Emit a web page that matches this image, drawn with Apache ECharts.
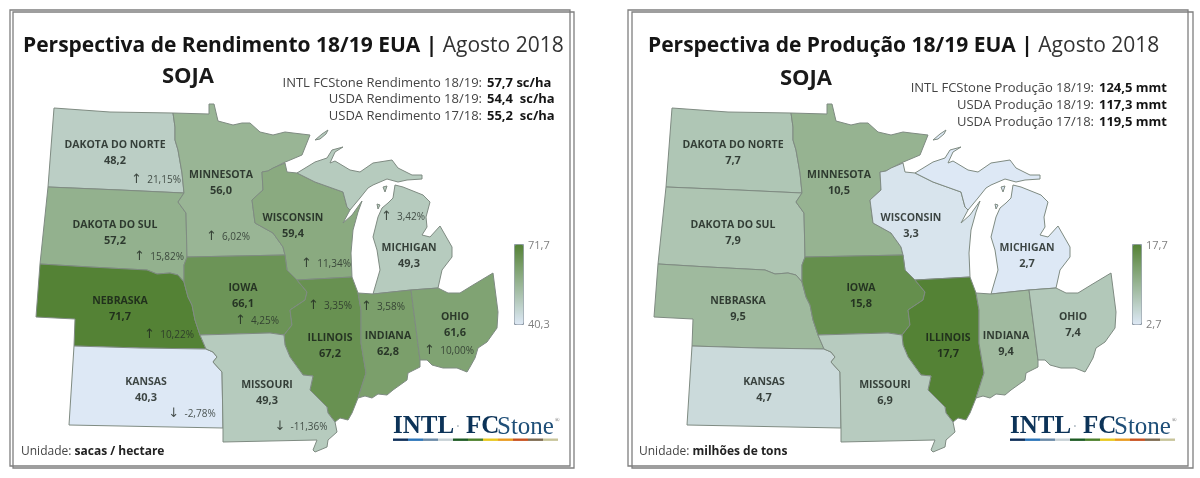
<!DOCTYPE html>
<html>
<head>
<meta charset="utf-8">
<title>Perspectiva soja 18/19</title>
<style>
html, body { margin: 0; padding: 0; background: #fff; }
#main { width: 1200px; height: 478px; }
</style>
<script src="https://cdn.jsdelivr.net/npm/echarts@6/dist/echarts.min.js"></script>
</head>
<body>
<div id="main"></div>
<script>
// chart values
const states = ['DAKOTA DO NORTE', 'DAKOTA DO SUL', 'MINNESOTA', 'WISCONSIN', 'MICHIGAN', 'NEBRASKA', 'IOWA', 'ILLINOIS', 'INDIANA', 'OHIO', 'KANSAS', 'MISSOURI']
const yieldValues = [48.2, 57.2, 56.0, 59.4, 49.3, 71.7, 66.1, 67.2, 62.8, 61.6, 40.3, 49.3]
const yieldChanges = [21.15, 15.82, 6.02, 11.34, 3.42, 10.22, 4.25, 3.35, 3.58, 10.00, -2.78, -11.36]
const productionValues = [7.7, 7.9, 10.5, 3.3, 2.7, 9.5, 15.8, 17.7, 9.4, 7.4, 4.7, 6.9]
const yieldRange = [40.3, 71.7]
const productionRange = [2.7, 17.7]
const yieldStatLabels = ['INTL FCStone Rendimento 18/19:', 'USDA Rendimento 18/19:', 'USDA Rendimento 17/18:']
const yieldStatValues = ['57,7 sc/ha', '54,4  sc/ha', '55,2  sc/ha']
const productionStatLabels = ['INTL FCStone Produção 18/19:', 'USDA Produção 18/19:', 'USDA Produção 17/18:']
const productionStatValues = ['124,5 mmt', '117,3 mmt', '119,5 mmt']

// map geometry, traced outlines in map units
const stateShapes = {
    'DAKOTA DO NORTE': [[[54, 108], [110, 112], [173, 113], [175, 127], [175, 140], [178, 150], [182, 173], [184, 193], [120, 190], [48, 187]]],
    'DAKOTA DO SUL': [[[48, 187], [120, 190], [184, 193], [178, 202], [186, 213], [187, 257], [184, 265], [184, 282], [178, 275], [170, 273], [157, 274], [147, 270], [90, 267], [40, 264]]],
    'MINNESOTA': [[[173, 113], [209, 114], [209, 104], [214, 104], [218, 121], [233, 125], [242, 123], [250, 123], [260, 132], [273, 135], [285, 132], [293, 133], [310, 135], [302, 155], [283, 163], [268, 171], [262, 172], [263, 190], [252, 200], [255, 223], [273, 233], [283, 247], [285, 255], [187, 257], [186, 213], [178, 202], [184, 193], [182, 173], [178, 150], [175, 140], [175, 127]]],
    'WISCONSIN': [[[262, 172], [268, 171], [273, 168], [285, 163], [287, 172], [297, 173], [315, 182], [343, 192], [347, 207], [350, 210], [343, 223], [352, 215], [362, 201], [358, 212], [353, 230], [351, 253], [352, 277], [297, 280], [287, 270], [285, 255], [283, 247], [273, 233], [255, 223], [252, 200], [263, 190]]],
    'MICHIGAN': [
        [[297, 173], [315, 162], [327, 158], [332, 150], [343, 147], [335, 152], [330, 163], [335, 161], [350, 170], [360, 172], [373, 163], [392, 160], [398, 168], [412, 175], [422, 175], [422, 179], [407, 180], [398, 182], [387, 179], [373, 185], [368, 188], [360, 198], [350, 210], [347, 207], [343, 192], [315, 182]],
        [[395, 185], [403, 187], [423, 195], [430, 202], [426, 217], [427, 227], [422, 235], [430, 237], [440, 226], [452, 247], [452, 257], [442, 270], [438, 288], [411, 290], [373, 294], [380, 270], [377, 250], [373, 237], [378, 217], [382, 208], [388, 203], [393, 198]],
        [[315, 140], [322, 134], [328, 130], [326, 134], [320, 139]],
        [[383, 187], [387, 186], [385, 192]],
        [[377, 204], [380, 205], [378, 209]]
    ],
    'NEBRASKA': [[[40, 264], [90, 267], [147, 270], [157, 274], [170, 273], [178, 275], [184, 282], [188, 297], [192, 305], [195, 320], [200, 335], [206, 349], [140, 348], [74, 346], [75, 319], [36, 317]]],
    'IOWA': [[[187, 257], [285, 255], [287, 270], [297, 280], [307, 292], [305, 300], [290, 310], [292, 325], [284, 335], [270, 333], [200, 335], [195, 320], [192, 305], [188, 297], [184, 282], [184, 265]]],
    'ILLINOIS': [[[297, 280], [352, 277], [358, 293], [361, 310], [361, 343], [366, 373], [358, 398], [352, 413], [348, 420], [340, 418], [335, 422], [328, 413], [327, 407], [310, 390], [313, 376], [303, 375], [290, 357], [285, 345], [284, 335], [292, 325], [290, 310], [305, 300], [307, 292]]],
    'INDIANA': [[[358, 293], [373, 294], [411, 290], [420, 360], [420, 367], [408, 373], [407, 380], [400, 385], [393, 390], [387, 395], [378, 394], [372, 398], [365, 396], [358, 398], [366, 373], [361, 343], [361, 310]]],
    'OHIO': [[[411, 290], [438, 288], [448, 293], [460, 293], [473, 285], [493, 273], [498, 312], [497, 328], [487, 342], [478, 348], [475, 358], [470, 367], [467, 372], [457, 368], [443, 368], [432, 365], [427, 360], [420, 360]]],
    'KANSAS': [[[74, 346], [140, 348], [206, 349], [213, 352], [217, 357], [213, 362], [222, 372], [223, 428], [69, 425]]],
    'MISSOURI': [[[200, 335], [270, 333], [284, 335], [285, 345], [290, 357], [303, 375], [313, 376], [310, 390], [327, 407], [328, 413], [335, 422], [337, 432], [328, 440], [327, 447], [315, 452], [313, 450], [317, 440], [223, 442], [223, 428], [222, 372], [213, 362], [217, 357], [213, 352], [206, 349]]]
}
// where each state's text sits on the map
const nameAnchors = [[115, 153], [115, 233], [221, 183], [293, 226], [409, 256], [120, 309], [243, 296], [330, 346], [388, 344], [455, 325], [146, 390], [267, 393]]
const changeAnchors = [[156, 180], [159, 257], [228, 237], [326, 264], [403, 217], [169, 335], [257, 321], [330, 306], [383, 307], [449, 351], [192, 414], [301, 427]]

const logoColors = ['#0f2f5a', '#2b74b9', '#6b8ba8', '#c8d2d6', '#1c5a23', '#4b7f2a', '#e8c81e', '#e99a20', '#c8501e', '#7d6a50', '#c8c49a']

const FONT = '"Open Sans", "Noto Sans", sans-serif'
const PANEL_SHIFT = 618

function flip(points) {
    return points.map(function (p) { return [p[0], -p[1]] })
}

const midwest = {
    type: 'FeatureCollection',
    features: states.map(function (name) {
        return {
            type: 'Feature',
            properties: { name: name },
            geometry: { type: 'MultiPolygon', coordinates: stateShapes[name].map(function (ring) { return [flip(ring)] }) }
        }
    })
}
echarts.registerMap('midwest', midwest)

function comma(v, digits) {
    return v.toFixed(digits).replace('.', ',')
}

function mapSeries(geoIndex, values) {
    return {
        type: 'map',
        geoIndex: geoIndex,
        data: states.map(function (name, i) { return { name: name, value: values[i] } })
    }
}

function nameSeries(geoIndex, values) {
    return {
        type: 'scatter',
        coordinateSystem: 'geo',
        geoIndex: geoIndex,
        symbolSize: 0,
        silent: true,
        data: states.map(function (name, i) {
            return { name: name, value: [nameAnchors[i][0], -nameAnchors[i][1], values[i]] }
        }),
        label: {
            show: true,
            position: 'inside',
            formatter: function (p) { return '{n|' + p.name + '}\n{v|' + comma(p.value[2], 1) + '}' },
            rich: {
                n: { fontFamily: FONT, fontWeight: 'bold', fontSize: 10.5, color: '#141c16', lineHeight: 15, align: 'center' },
                v: { fontFamily: FONT, fontWeight: 'bold', fontSize: 11, color: '#141c16', lineHeight: 16, align: 'center' }
            }
        }
    }
}

function changeSeries(geoIndex, values) {
    return {
        type: 'scatter',
        coordinateSystem: 'geo',
        geoIndex: geoIndex,
        symbolSize: 0,
        silent: true,
        data: states.map(function (name, i) {
            return { name: name, value: [changeAnchors[i][0], -changeAnchors[i][1], values[i]] }
        }),
        label: {
            show: true,
            position: 'inside',
            formatter: function (p) {
                return '{a|' + (p.value[2] < 0 ? '↓' : '↑') + '}{t|  ' + comma(p.value[2], 2) + '%}'
            },
            rich: {
                a: { fontFamily: '"DejaVu Sans"', fontSize: 13, color: '#1e261f' },
                t: { fontFamily: FONT, fontSize: 10, color: '#262e28' }
            }
        }
    }
}

function geoBox(shift) {
    return {
        map: 'midwest',
        left: 36 + shift,
        top: 104,
        width: 462,
        height: 348,
        aspectScale: 1,
        roam: false,
        silent: true,
        label: { show: false },
        itemStyle: { borderColor: '#7f8b82', borderWidth: 1 }
    }
}

function colorScale(seriesIndex, range, shift) {
    return {
        type: 'continuous',
        seriesIndex: seriesIndex,
        min: range[0],
        max: range[1],
        left: 514 + shift,
        top: 244,
        itemWidth: 9,
        itemHeight: 80,
        padding: 0,
        borderColor: '#8e9aa6',
        borderWidth: 1,
        calculable: false,
        hoverLink: false,
        inRange: { color: ['#dde8f5', '#548235'] }
    }
}

function textEl(x, y, text, size, weight, color, align, family) {
    return {
        type: 'text',
        x: x,
        y: y,
        silent: true,
        style: {
            text: text,
            fontFamily: family || FONT,
            fontSize: size,
            fontWeight: weight,
            fill: color,
            align: align || 'left',
            verticalAlign: 'middle'
        }
    }
}

function frameEl(x1, y1, x2, y2) {
    return {
        type: 'rect',
        silent: true,
        shape: { x: x1, y: y1, width: x2 - x1, height: y2 - y1 },
        style: { fill: null, stroke: '#7f7f7f', lineWidth: 1.3 }
    }
}

// frame, side texts, colour scale ends and logo of one panel
function panelGraphics(shift, labels, vals, labelEnd, statY, range, unit, sojaX, sojaY) {
    const els = []
    els.push(frameEl(10 + (shift ? 618 : 0), 10, 570 + shift, 466))
    els.push(frameEl(13 + (shift ? 619 : 0), 12, 574 + shift + (shift ? 1 : 0), 468))
    els.push(textEl(sojaX, sojaY, 'SOJA', 22, 'bold', '#1a1a1a', 'center'))
    labels.forEach(function (label, i) {
        els.push(textEl(labelEnd, statY[i], label, 13, 'normal', '#444', 'right'))
        els.push(textEl(labelEnd + 5, statY[i], vals[i], 13, 'bold', '#151515'))
    })
    els.push(textEl(528 + shift, 246, comma(range[1], 1), 11, 'normal', '#7f7f7f'))
    els.push(textEl(528 + shift, 325, comma(range[0], 1), 11, 'normal', '#7f7f7f'))
    els.push({
        type: 'text', x: 21 + shift, y: 452, silent: true,
        style: {
            text: '{a|Unidade: }{b|' + unit + '}',
            verticalAlign: 'middle',
            rich: {
                a: { fontFamily: FONT, fontSize: 12, fill: '#444', color: '#444' },
                b: { fontFamily: FONT, fontSize: 12, fontWeight: 'bold', fill: '#222', color: '#222' }
            }
        }
    })
    const logoX = 393 + shift - (shift ? 1 : 0)
    const serif = '"Liberation Serif", serif'
    els.push(textEl(logoX, 427, 'INTL', 25, 'bold', '#0c3358', 'left', serif))
    els.push(textEl(logoX + 65, 428, '·', 16, 'normal', '#b5bfc6', 'center', serif))
    els.push(textEl(logoX + 73, 427, 'FC', 25, 'bold', '#0c3358', 'left', serif))
    els.push(textEl(logoX + 104, 427, 'Stone', 25, 'normal', '#1f4f78', 'left', serif))
    els.push(textEl(logoX + 162, 420, '®', 6, 'normal', '#555', 'left', serif))
    logoColors.forEach(function (c, i) {
        els.push({
            type: 'rect',
            silent: true,
            shape: { x: logoX + i * 15, y: 438.5, width: 15, height: 2.4 },
            style: { fill: c }
        })
    })
    return els
}

const titleRich = {
    b: { fontFamily: FONT, fontWeight: 'bold', fontSize: 21, color: '#151515' },
    r: { fontFamily: FONT, fontWeight: 'normal', fontSize: 21, color: '#333' }
}

const chart = echarts.init(document.getElementById('main'), null, { renderer: 'canvas' })
chart.setOption({
    animation: false,
    backgroundColor: '#fff',
    title: [
        {
            text: '{b|Perspectiva de Rendimento 18/19 EUA | }{r|Agosto 2018}',
            left: 23, top: 36, padding: 0,
            textStyle: { rich: titleRich }
        },
        {
            text: '{b|Perspectiva de Produção 18/19 EUA | }{r|Agosto 2018}',
            left: 648, top: 36, padding: 0,
            textStyle: { rich: titleRich }
        }
    ],
    geo: [geoBox(0), geoBox(PANEL_SHIFT)],
    visualMap: [colorScale(0, yieldRange, 0), colorScale(3, productionRange, PANEL_SHIFT)],
    series: [
        mapSeries(0, yieldValues),
        nameSeries(0, yieldValues),
        changeSeries(0, yieldChanges),
        mapSeries(1, productionValues),
        nameSeries(1, productionValues)
    ],
    graphic: panelGraphics(0, yieldStatLabels, yieldStatValues, 482, [83, 99, 116], yieldRange, 'sacas / hectare', 188, 77)
        .concat(panelGraphics(PANEL_SHIFT, productionStatLabels, productionStatValues, 1094, [88, 105, 122], productionRange, 'milhões de tons', 806, 79))
})
</script>
</body>
</html>
